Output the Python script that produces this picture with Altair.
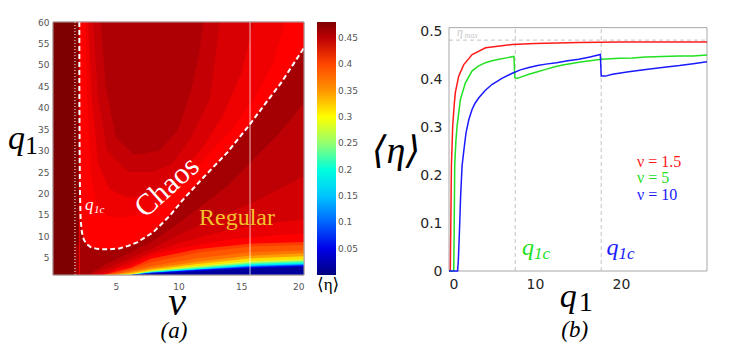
import altair as alt
import pandas as pd

# ======================= panel (a): <eta> over the (nu, q1) plane =======================
# background patches: nu from, nu to, q1 from, q1 to, <eta>
BASE_NU0 = [0, 1.75, 1.75, 2.1]
BASE_NU1 = [1.75, 2.1, 2.1, 20]
BASE_QA = [1, 8, 1, 1]
BASE_QB = [60, 60, 8, 60]
BASE_ETA = [0.48, 0.475, 0.462, 0.457]

# chaotic side: iso-lines of <eta> above the critical line (area below each line takes the fill)
CHAOS_FILL = [0.447, 0.437, 0.427, 0.42]
CHAOS_NU = [
    [2.1, 3.8, 4.2, 5, 6.5, 8.5, 10, 11, 11.6, 12, 20],
    [2.1, 3.2, 3.6, 4.3, 6, 8, 9.5, 11, 12.5, 13.3, 20],
    [2.1, 2.8, 3.1, 3.6, 4.5, 6, 8, 10, 12, 13.5, 15, 16, 20],
    [2.1, 2.55, 2.75, 3.0, 3.5, 4.5, 6, 7.5, 9, 10.5, 12, 14, 16, 17.5, 18.5, 20],
]
CHAOS_Q1 = [
    [60, 60, 45, 33, 29, 30, 35, 44, 52, 60, 60],
    [60, 60, 42, 30, 25, 25, 27, 33, 42, 60, 60],
    [60, 60, 42, 27, 21, 19, 20, 24, 31, 38, 48, 60, 60],
    [60, 60, 40, 25, 17, 14.5, 14.5, 16, 19.5, 23, 28, 34, 42, 50, 60, 60],
]

# critical line q1c(nu) separating chaos (above) from regular motion (below)
BOUND_NU = [2.1, 2.1, 2.12, 2.15, 2.2, 2.3, 2.45, 2.65, 3.0, 3.5, 4.0, 4.5, 5.3, 6.0, 6.7, 8.0, 9.3, 10.4, 12.0, 13.9, 15.6, 16.8, 18.2, 20.0]
BOUND_Q1 = [60, 45, 30, 20, 14, 11, 9.3, 8.3, 7.5, 7.1, 7.0, 7.0, 7.2, 7.8, 8.6, 11.0, 14.8, 18.7, 23.8, 29.6, 35.8, 40.5, 45.9, 54.0]

# regular side: iso-lines of <eta> below the critical line
REG_FILL = [0.45, 0.44, 0.43, 0.42]
REG_NU = [
    [2.15, 2.8, 4, 5, 6.2, 8, 10, 12, 14, 16, 18, 20],
    [2.15, 3, 4, 5, 6.2, 8, 10, 12, 14, 16, 18, 20],
    [2.15, 3.5, 4.5, 5.5, 6.2, 8, 10, 12, 14, 16, 18, 20],
    [2.15, 4.2, 5, 6.2, 7.8, 10, 11.5, 14, 15.6, 18, 20],
]
REG_Q1 = [
    [1, 1, 3.2, 4.6, 6.3, 9, 13, 17.5, 22, 28, 34, 41],
    [1, 1, 2.2, 3.4, 5.0, 7.3, 10.3, 13, 15.5, 18, 21, 24],
    [1, 1, 2.0, 3.3, 4.2, 6.4, 8.4, 10.0, 11.5, 12.5, 13.3, 14],
    [1, 1, 2.3, 3.3, 5.6, 7.2, 8.0, 9.3, 9.7, 10.3, 10.6],
]
REG_TOP_FILL = 0.462  # dark band right under the critical line

# low-q1 fan (red -> orange -> yellow -> cyan -> blue)
FAN_NU = [4, 5, 6.2, 7.8, 11.5, 15.6, 20]
FAN_FILL = [0.405, 0.39, 0.37, 0.345, 0.315, 0.285, 0.255, 0.225, 0.195, 0.16, 0.12, 0.085, 0.05, 0.015]
FAN_Q1 = [
    [1.0, 1.8, 2.7, 4.8, 7.0, 8.3, 8.7],
    [1.0, 1.5, 2.4, 3.9, 6.2, 7.6, 8.0],
    [1.0, 1.25, 2.0, 3.05, 4.9, 6.3, 6.8],
    [1.0, 1.1, 1.7, 2.55, 4.1, 5.5, 6.05],
    [1.0, 1.0, 1.4, 2.25, 3.55, 4.85, 5.35],
    [1.0, 1.0, 1.15, 2.0, 3.1, 4.25, 4.7],
    [1.0, 1.0, 1.1, 1.9, 2.9, 4.0, 4.45],
    [1.0, 1.0, 1.05, 1.8, 2.7, 3.75, 4.2],
    [1.0, 1.0, 1.02, 1.72, 2.55, 3.5, 3.95],
    [1.0, 1.0, 1.0, 1.63, 2.4, 3.33, 3.7],
    [1.0, 1.0, 1.0, 1.55, 2.28, 3.1, 3.5],
    [1.0, 1.0, 1.0, 1.5, 2.2, 2.95, 3.35],
    [1.0, 1.0, 1.0, 1.45, 2.15, 2.8, 3.2],
    [1.0, 1.0, 1.0, 1.3, 1.9, 2.55, 2.9],
]

NU_DOTTED = [1.75]
NU_THIN = [15.7]
CBAR_TICKS = [0.05, 0.1, 0.15, 0.2, 0.25, 0.3, 0.35, 0.4, 0.45]

# ======================= panel (b): <eta> versus q1 =======================
SERIES = ["ν = 1.5", "ν = 5", "ν = 10"]
RED_Q1 = [0, 0.15, 0.2, 0.28, 0.43, 0.6, 0.74, 1.13, 1.72, 2.69, 4.25, 7.36, 10, 15.1, 20, 25, 30]
RED_ETA = [0, 0, 0.08, 0.219, 0.302, 0.345, 0.372, 0.406, 0.43, 0.451, 0.465, 0.472, 0.474, 0.476, 0.477, 0.477, 0.477]
GREEN_Q1 = [0, 0.55, 0.6, 0.665, 0.8, 0.94, 1.33, 1.91, 2.69, 3.4, 4.24, 5.0, 5.8, 6.7, 7.55, 7.65, 7.9, 8.5, 9.3, 10.3,
            11.25, 12.2, 13.2, 14.1, 15.1, 16.4, 17.7, 18.8, 19.8, 21.3, 22.9, 24.8, 26.8, 28.4, 30]
GREEN_ETA = [0, 0, 0.08, 0.219, 0.27, 0.302, 0.358, 0.392, 0.417, 0.427, 0.434, 0.438, 0.441, 0.444, 0.447, 0.403, 0.401, 0.405, 0.41, 0.415,
             0.42, 0.425, 0.429, 0.432, 0.435, 0.438, 0.441, 0.442, 0.443, 0.444, 0.446, 0.447, 0.448, 0.448, 0.45]
BLUE_Q1 = [0, 1.0, 1.08, 1.21, 1.35, 1.52, 1.75, 1.98, 2.3, 2.69, 3.05, 3.47, 4.2, 5.03, 6.2, 7.36, 8.3, 9.3, 10.3, 11.25,
           12.5, 13.8, 15.1, 16.4, 17.6, 17.7, 18.2, 19.0, 20.9, 22.9, 24.8, 26.8, 28.4, 30]
BLUE_ETA = [0, 0, 0.02, 0.08, 0.155, 0.219, 0.255, 0.288, 0.315, 0.337, 0.35, 0.361, 0.376, 0.389, 0.402, 0.412, 0.419, 0.424, 0.428, 0.431,
            0.434, 0.438, 0.441, 0.446, 0.451, 0.406, 0.406, 0.41, 0.415, 0.42, 0.424, 0.428, 0.432, 0.436]
Q1C = [7.7, 17.7]
ETA_MAX = [0.481]

# ======================= styling constants =======================
SERIF = "Liberation Serif, DejaVu Serif"
SANS = "DejaVu Sans"
FRAME = "#a8a8a8"
JET_DOMAIN = [0, 0.06, 0.12, 0.18, 0.24, 0.30, 0.36, 0.42, 0.48]
JET_COLORS = ["#00007f", "#0000ff", "#007fff", "#00ffff", "#7fff7f", "#ffff00", "#ff7f00", "#ff0000", "#7f0000"]
XA_DOM = [0, 20]
YA_DOM = [1, 60]
XB_DOM = [0, 30]
YB_DOM = [0, 0.51875]
YB_TOP = 0.507

ONE = pd.DataFrame({"k": [0]})


def label(txt, x, y, size, color="black", style="normal", align="center",
          baseline="alphabetic", angle=0, font=SERIF):
    return alt.Chart(ONE).mark_text(
        text=txt, fontSize=size, font=font, fontStyle=style, color=color,
        align=align, baseline=baseline, angle=angle
    ).encode(x=alt.value(x), y=alt.value(y))


# ======================= left chart =======================
XA = alt.Scale(domain=XA_DOM, nice=False, zero=False)
YA = alt.Scale(domain=YA_DOM, nice=False, zero=False)
AXA_X = alt.Axis(values=[5, 10, 15, 20], labelFontSize=9, labelColor="#555", labelFont=SANS,
                 ticks=False, domain=False, grid=False, labelPadding=7, title=None)
AXA_Y = alt.Axis(values=list(range(5, 61, 5)), labelFontSize=9, labelColor="#555", labelFont=SANS,
                 ticks=False, domain=False, grid=False, labelPadding=4, title=None)
JET = alt.Scale(domain=JET_DOMAIN, range=JET_COLORS)
LEG = alt.Legend(
    title="⟨η⟩", titleOrient="bottom", titleFont=SERIF, titleFontSize=17,
    titleFontWeight="normal", titleAnchor="start", titlePadding=2,
    gradientLength=253, gradientThickness=19, gradientStrokeWidth=0,
    values=CBAR_TICKS, format=".2~f", labelFontSize=9, labelColor="#555",
    labelFont=SANS, labelOverlap=False, offset=13, direction="vertical")


def xa(field):
    return alt.X(field, scale=XA, axis=AXA_X, title=None)


def ya(field):
    return alt.Y(field, scale=YA, axis=AXA_Y, title=None)


base_df = pd.DataFrame({"nu0": BASE_NU0, "nu1": BASE_NU1, "qa": BASE_QA, "qb": BASE_QB, "eta": BASE_ETA})
base = alt.Chart(base_df).mark_rect(strokeWidth=0.5).encode(
    x=xa("nu0:Q"), x2="nu1:Q", y=ya("qa:Q"), y2="qb:Q",
    color=alt.Color("eta:Q", scale=JET, legend=LEG),
    stroke=alt.Stroke("eta:Q", scale=JET, legend=None))


def band(nus, qs, fill):
    df = pd.DataFrame({"nu": nus, "q": qs, "eta": [fill] * len(nus), "b": [YA_DOM[0]] * len(nus)})
    return alt.Chart(df).mark_area(clip=True).encode(
        x=xa("nu:Q"), y=ya("q:Q"), y2="b:Q",
        color=alt.Color("eta:Q", scale=JET, legend=LEG))


bands = []
for nus, qs, f in zip(CHAOS_NU, CHAOS_Q1, CHAOS_FILL):
    bands.append(band(nus, qs, f))
bands.append(band(BOUND_NU[3:], BOUND_Q1[3:], REG_TOP_FILL))
for nus, qs, f in zip(REG_NU, REG_Q1, REG_FILL):
    bands.append(band(nus, qs, f))
for qs, f in zip(FAN_Q1, FAN_FILL):
    bands.append(band(FAN_NU, qs, f))

dotted = alt.Chart(pd.DataFrame({"nu": NU_DOTTED})).mark_rule(
    color="white", strokeWidth=1, strokeDash=[1, 2]).encode(x=xa("nu:Q"))
thin = alt.Chart(pd.DataFrame({"nu": NU_THIN})).mark_rule(
    color="white", strokeWidth=1, opacity=0.75).encode(x=xa("nu:Q"))
bound_df = pd.DataFrame({"nu": BOUND_NU, "q": BOUND_Q1, "i": range(len(BOUND_NU))})
bound = alt.Chart(bound_df).mark_line(color="white", strokeWidth=2, strokeDash=[5, 3]).encode(
    x=xa("nu:Q"), y=ya("q:Q"), order="i:Q")
frame_a = alt.Chart(pd.DataFrame({"x0": [XA_DOM[0]], "x1": [XA_DOM[1]], "y0": [YA_DOM[0]], "y1": [YA_DOM[1]]})).mark_rect(
    fill="transparent", stroke=FRAME, strokeWidth=1).encode(x=xa("x0:Q"), x2="x1:Q", y=ya("y0:Q"), y2="y1:Q")

left = alt.layer(
    base, *bands, dotted, thin, bound, frame_a,
    label("Chaos", 114, 165, 30, color="white", baseline="middle", angle=318),
    label("Regular", 184, 203, 24, color="#f2c12e"),
    label("q", 32, 188, 17, color="white", style="italic", align="left"),
    label("1c", 41, 191, 11, color="white", style="italic", align="left"),
    label("q", -45, 127, 34, style="italic", align="left"),
    label("1", -28, 132, 26, align="left"),
    label("ν", 124, 293, 40, style="italic"),
    label("(a)", 121, 316, 23, style="italic"),
).properties(width=251, height=253)

# ======================= right chart =======================
XB = alt.Scale(domain=XB_DOM, nice=False, zero=False)
YB = alt.Scale(domain=YB_DOM, nice=False, zero=False)
AXB_X = alt.Axis(values=[0, 10, 20], labelFontSize=14, labelColor="#262626", labelFont=SANS,
                 ticks=False, domain=False, grid=False, labelPadding=6, title=None)
AXB_Y = alt.Axis(values=[0, 0.1, 0.2, 0.3, 0.4, 0.5], format="~g", labelFontSize=14,
                 labelColor="#262626", labelFont=SANS, ticks=False, domain=False,
                 grid=False, labelPadding=7, title=None)


def xb(field):
    return alt.X(field, scale=XB, axis=AXB_X, title=None)


def yb(field):
    return alt.Y(field, scale=YB, axis=AXB_Y, title=None)


rows = []
for name, qs, es in zip(SERIES, [RED_Q1, GREEN_Q1, BLUE_Q1], [RED_ETA, GREEN_ETA, BLUE_ETA]):
    for k, (q, e) in enumerate(zip(qs, es)):
        rows.append({"series": name, "q1": q, "eta": e, "i": k})
line_df = pd.DataFrame(rows)

frame_b = alt.Chart(pd.DataFrame({"x0": [XB_DOM[0]], "x1": [XB_DOM[1]], "y0": [0], "y1": [YB_TOP]})).mark_rect(
    fill="transparent", stroke=FRAME, strokeWidth=1).encode(x=xb("x0:Q"), x2="x1:Q", y=yb("y0:Q"), y2="y1:Q")
vlines = alt.Chart(pd.DataFrame({"q1": Q1C, "y0": [0] * len(Q1C), "y1": [YB_TOP] * len(Q1C)})).mark_rule(
    color="#c4c4c4", strokeWidth=1, strokeDash=[4, 3]).encode(x=xb("q1:Q"), y=yb("y0:Q"), y2="y1:Q")
hline = alt.Chart(pd.DataFrame({"eta": ETA_MAX, "x0": [XB_DOM[0]], "x1": [XB_DOM[1]]})).mark_rule(
    color="#c4c4c4", strokeWidth=1, strokeDash=[4, 3]).encode(y=yb("eta:Q"), x=xb("x0:Q"), x2="x1:Q")
lines = alt.Chart(line_df).mark_line(strokeWidth=1.5).encode(
    x=xb("q1:Q"), y=yb("eta:Q"),
    color=alt.Color("series:N", scale=alt.Scale(domain=SERIES, range=["#ff1a1a", "#22e022", "#1a1aff"]),
                    legend=None),
    detail="series:N",
    order="i:Q")

right = alt.layer(
    vlines, hline, frame_b, lines,
    label("η", 8, 14, 12, color="#c8c8c8", style="italic", align="left"),
    label("max", 15.5, 16, 8, color="#c8c8c8", style="italic", align="left"),
    label("ν = 1.5", 188, 140, 16, color="#ff1a1a", align="left", baseline="middle"),
    label("ν = 5", 188, 156, 16, color="#22e022", align="left", baseline="middle"),
    label("ν = 10", 188, 173, 16, color="#1a1aff", align="left", baseline="middle"),
    label("q", 73, 233, 24, color="#22e022", style="italic", align="left"),
    label("1c", 85, 237, 17, color="#22e022", style="italic", align="left"),
    label("q", 157.5, 233, 24, color="#1a1aff", style="italic", align="left"),
    label("1c", 169.5, 237, 17, color="#1a1aff", style="italic", align="left"),
    label("⟨η⟩", -53, 130, 38, style="italic", baseline="middle"),
    label("q", 110.7, 285, 34, style="italic", align="left"),
    label("1", 129.7, 288.7, 28, align="left"),
    label("(b)", 125.7, 315, 23, style="italic"),
).properties(width=258, height=249)

chart = alt.hconcat(left, right, spacing=12).properties(
    padding={"left": 0, "top": 10, "right": 0, "bottom": 0}
).configure_view(strokeOpacity=0)

chart.save("out.html", embed_options={"renderer": "svg", "actions": False})
